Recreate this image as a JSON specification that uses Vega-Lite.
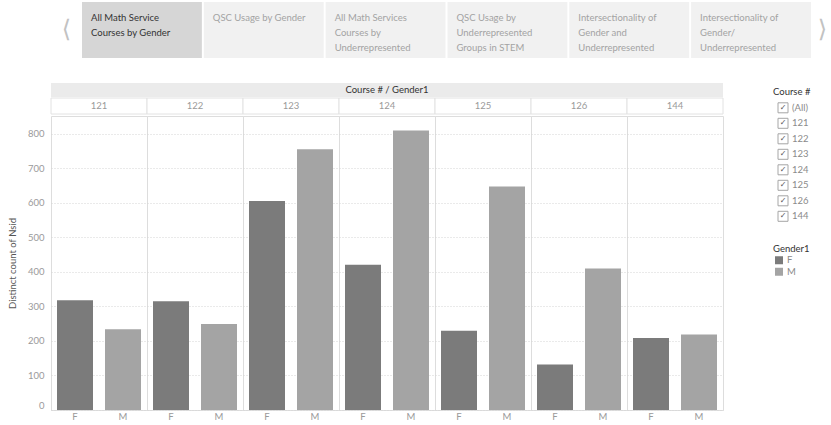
{
  "$schema": "https://vega.github.io/schema/vega-lite/v6.json",
  "background": "white",
  "autosize": {"type": "pad"},
  "padding": {"left": 7, "top": 2, "right": 0, "bottom": 0},
  "config": {
    "font": "Lato",
    "view": {"stroke": null},
    "text": {"font": "Lato"}
  },
  "datasets": {
    "tabs": [
      {"tab": "t1", "label": "All Math Service\nCourses by Gender", "selected": "yes"},
      {"tab": "t2", "label": "QSC Usage by Gender", "selected": "no"},
      {"tab": "t3", "label": "All Math Services\nCourses by\nUnderrepresented", "selected": "no"},
      {"tab": "t4", "label": "QSC Usage by\nUnderrepresented\nGroups in STEM", "selected": "no"},
      {"tab": "t5", "label": "Intersectionality of\nGender and\nUnderrepresented", "selected": "no"},
      {"tab": "t6", "label": "Intersectionality of\nGender/\nUnderrepresented", "selected": "no"}
    ],
    "counts": [
      {"course": "121", "gender": "F", "students": 318},
      {"course": "121", "gender": "M", "students": 234},
      {"course": "122", "gender": "F", "students": 315},
      {"course": "122", "gender": "M", "students": 249},
      {"course": "123", "gender": "F", "students": 606},
      {"course": "123", "gender": "M", "students": 756},
      {"course": "124", "gender": "F", "students": 421},
      {"course": "124", "gender": "M", "students": 810},
      {"course": "125", "gender": "F", "students": 230},
      {"course": "125", "gender": "M", "students": 648},
      {"course": "126", "gender": "F", "students": 132},
      {"course": "126", "gender": "M", "students": 410},
      {"course": "144", "gender": "F", "students": 209},
      {"course": "144", "gender": "M", "students": 219}
    ],
    "courses": [
      {"course": "121"}, {"course": "122"}, {"course": "123"}, {"course": "124"},
      {"course": "125"}, {"course": "126"}, {"course": "144"}
    ],
    "filterItems": [
      {"item": "(All)"}, {"item": "121"}, {"item": "122"}, {"item": "123"},
      {"item": "124"}, {"item": "125"}, {"item": "126"}, {"item": "144"}
    ],
    "genders": [{"item": "F"}, {"item": "M"}]
  },
  "vconcat": [
    {
      "hconcat": [
        {
          "width": 31,
          "height": 56,
          "data": {"values": [{"glyph": "⟨"}]},
          "mark": {"type": "text", "font": "DejaVu Sans", "fontSize": 24, "color": "#c2c2c2"},
          "encoding": {"text": {"field": "glyph"}}
        },
        {
          "width": 729,
          "height": 56,
          "data": {"name": "tabs"},
          "encoding": {
            "x": {"field": "tab", "type": "nominal", "sort": null, "scale": {"paddingInner": 0.016, "paddingOuter": 0}, "axis": null}
          },
          "layer": [
            {
              "mark": {"type": "rect"},
              "encoding": {
                "y": {"value": 0},
                "y2": {"value": "height"},
                "color": {"field": "selected", "type": "nominal", "scale": {"domain": ["yes", "no"], "range": ["#d6d6d6", "#f1f1f1"]}, "legend": null}
              }
            },
            {
              "mark": {"type": "text", "align": "left", "baseline": "top", "lineBreak": "\n", "lineHeight": 15, "fontSize": 9.5, "dx": 9, "clip": true},
              "encoding": {
                "x": {"field": "tab", "type": "nominal", "sort": null, "bandPosition": 0},
                "y": {"value": 11},
                "text": {"field": "label"},
                "color": {"field": "selected", "type": "nominal", "scale": {"domain": ["yes", "no"], "range": ["#333333", "#a3a3a3"]}, "legend": null}
              }
            }
          ],
          "resolve": {"scale": {"color": "independent"}}
        },
        {
          "width": 19,
          "height": 56,
          "data": {"values": [{"glyph": "⟩"}]},
          "mark": {"type": "text", "font": "DejaVu Sans", "fontSize": 24, "color": "#c2c2c2", "dx": 2},
          "encoding": {"text": {"field": "glyph"}}
        }
      ],
      "spacing": 0,
      "align": "each"
    },
    {
      "hconcat": [
        {
          "vconcat": [
            {
              "width": 672,
              "height": 14,
              "data": {"values": [{"label": "Course # / Gender1"}]},
              "layer": [
                {
                  "mark": {"type": "rect", "color": "#ebebeb"},
                  "encoding": {"x": {"value": 0}, "x2": {"value": "width"}, "y": {"value": 0}, "y2": {"value": "height"}}
                },
                {
                  "mark": {"type": "text", "fontSize": 9.5, "color": "#333333"},
                  "encoding": {"text": {"field": "label"}}
                }
              ]
            },
            {
              "width": 672,
              "height": 16,
              "data": {"name": "courses"},
              "encoding": {
                "x": {"field": "course", "type": "ordinal", "scale": {"paddingInner": 0, "paddingOuter": 0}, "axis": null}
              },
              "layer": [
                {
                  "mark": {"type": "rect", "fill": "white", "stroke": "#e2e2e2", "strokeWidth": 1},
                  "encoding": {"y": {"value": 0}, "y2": {"value": "height"}}
                },
                {
                  "mark": {"type": "text", "fontSize": 9.5, "color": "#9a9a9a"},
                  "encoding": {"text": {"field": "course"}}
                }
              ]
            },
            {
              "data": {"name": "counts"},
              "facet": {"column": {"field": "course", "type": "ordinal", "header": null}},
              "spacing": 0,
              "bounds": "flush",
              "spec": {
                "width": 96,
                "height": 294,
                "view": {"stroke": "#dddddd"},
                "mark": {"type": "bar"},
                "encoding": {
                  "x": {
                    "field": "gender",
                    "type": "nominal",
                    "scale": {"paddingInner": 0.25, "paddingOuter": 0.125},
                    "axis": {"title": null, "labelAngle": 0, "labelColor": "#9a9a9a", "labelFontSize": 9.5, "labelPadding": 1, "ticks": false, "domainColor": "#d6d6d6", "grid": false}
                  },
                  "y": {
                    "field": "students",
                    "type": "quantitative",
                    "scale": {"domain": [0, 852], "nice": false},
                    "axis": {
                      "values": [0, 100, 200, 300, 400, 500, 600, 700, 800],
                      "title": "Distinct count of Nsid",
                      "titleColor": "#555555",
                      "titleFontSize": 9.5,
                      "titleFontWeight": "normal",
                      "titlePadding": 10,
                      "labelColor": "#9a9a9a",
                      "labelFontSize": 9.5,
                      "labelPadding": 7,
                      "labelBaseline": {"condition": {"test": "datum.value === 0", "value": "bottom"}, "value": "middle"},
                      "ticks": false,
                      "domain": false,
                      "grid": true,
                      "gridColor": "#d4d4d4",
                      "gridDash": [1, 2]
                    }
                  },
                  "color": {"field": "gender", "type": "nominal", "scale": {"domain": ["F", "M"], "range": ["#7b7b7b", "#a4a4a4"]}, "legend": null}
                }
              }
            }
          ],
          "spacing": 0,
          "align": "each"
        },
        {
          "vconcat": [
            {
              "width": 40,
              "height": 142.6,
              "encoding": {
                "y": {
                  "field": "item",
                  "type": "nominal",
                  "sort": null,
                  "scale": {"type": "point", "padding": 0.6, "domain": ["Course #", "(All)", "121", "122", "123", "124", "125", "126", "144"]},
                  "axis": null
                }
              },
              "layer": [
                {
                  "data": {"values": [{"item": "Course #"}]},
                  "mark": {"type": "text", "align": "left", "fontSize": 9.5, "color": "#333333"},
                  "encoding": {"x": {"value": 0}, "text": {"field": "item"}}
                },
                {
                  "data": {"name": "filterItems"},
                  "mark": {"type": "point", "shape": "square", "size": 100, "filled": false, "stroke": "#a6a6a6", "strokeWidth": 1, "opacity": 1},
                  "encoding": {"x": {"value": 10}}
                },
                {
                  "data": {"name": "filterItems"},
                  "mark": {"type": "text", "font": "DejaVu Sans", "fontSize": 8, "color": "#555555"},
                  "encoding": {"x": {"value": 10}, "text": {"value": "✓"}}
                },
                {
                  "data": {"name": "filterItems"},
                  "mark": {"type": "text", "align": "left", "fontSize": 9.5, "color": "#8a8a8a"},
                  "encoding": {"x": {"value": 19}, "text": {"field": "item"}}
                }
              ]
            },
            {
              "width": 40,
              "height": 34.5,
              "encoding": {
                "y": {
                  "field": "item",
                  "type": "nominal",
                  "sort": null,
                  "scale": {"type": "point", "padding": 0.5, "domain": ["Gender1", "F", "M"]},
                  "axis": null
                }
              },
              "layer": [
                {
                  "data": {"values": [{"item": "Gender1"}]},
                  "mark": {"type": "text", "align": "left", "fontSize": 9.5, "color": "#333333"},
                  "encoding": {"x": {"value": 0}, "text": {"field": "item"}}
                },
                {
                  "data": {"name": "genders"},
                  "mark": {"type": "point", "shape": "square", "size": 64, "filled": true, "opacity": 1},
                  "encoding": {
                    "x": {"value": 6},
                    "color": {"field": "item", "type": "nominal", "scale": {"domain": ["F", "M"], "range": ["#7b7b7b", "#a4a4a4"]}, "legend": null}
                  }
                },
                {
                  "data": {"name": "genders"},
                  "mark": {"type": "text", "align": "left", "fontSize": 9.5, "color": "#8a8a8a"},
                  "encoding": {"x": {"value": 14}, "text": {"field": "item"}}
                }
              ]
            }
          ],
          "spacing": 17,
          "align": "each"
        }
      ],
      "spacing": 49,
      "align": "each"
    }
  ],
  "spacing": 25,
  "align": "each"
}
